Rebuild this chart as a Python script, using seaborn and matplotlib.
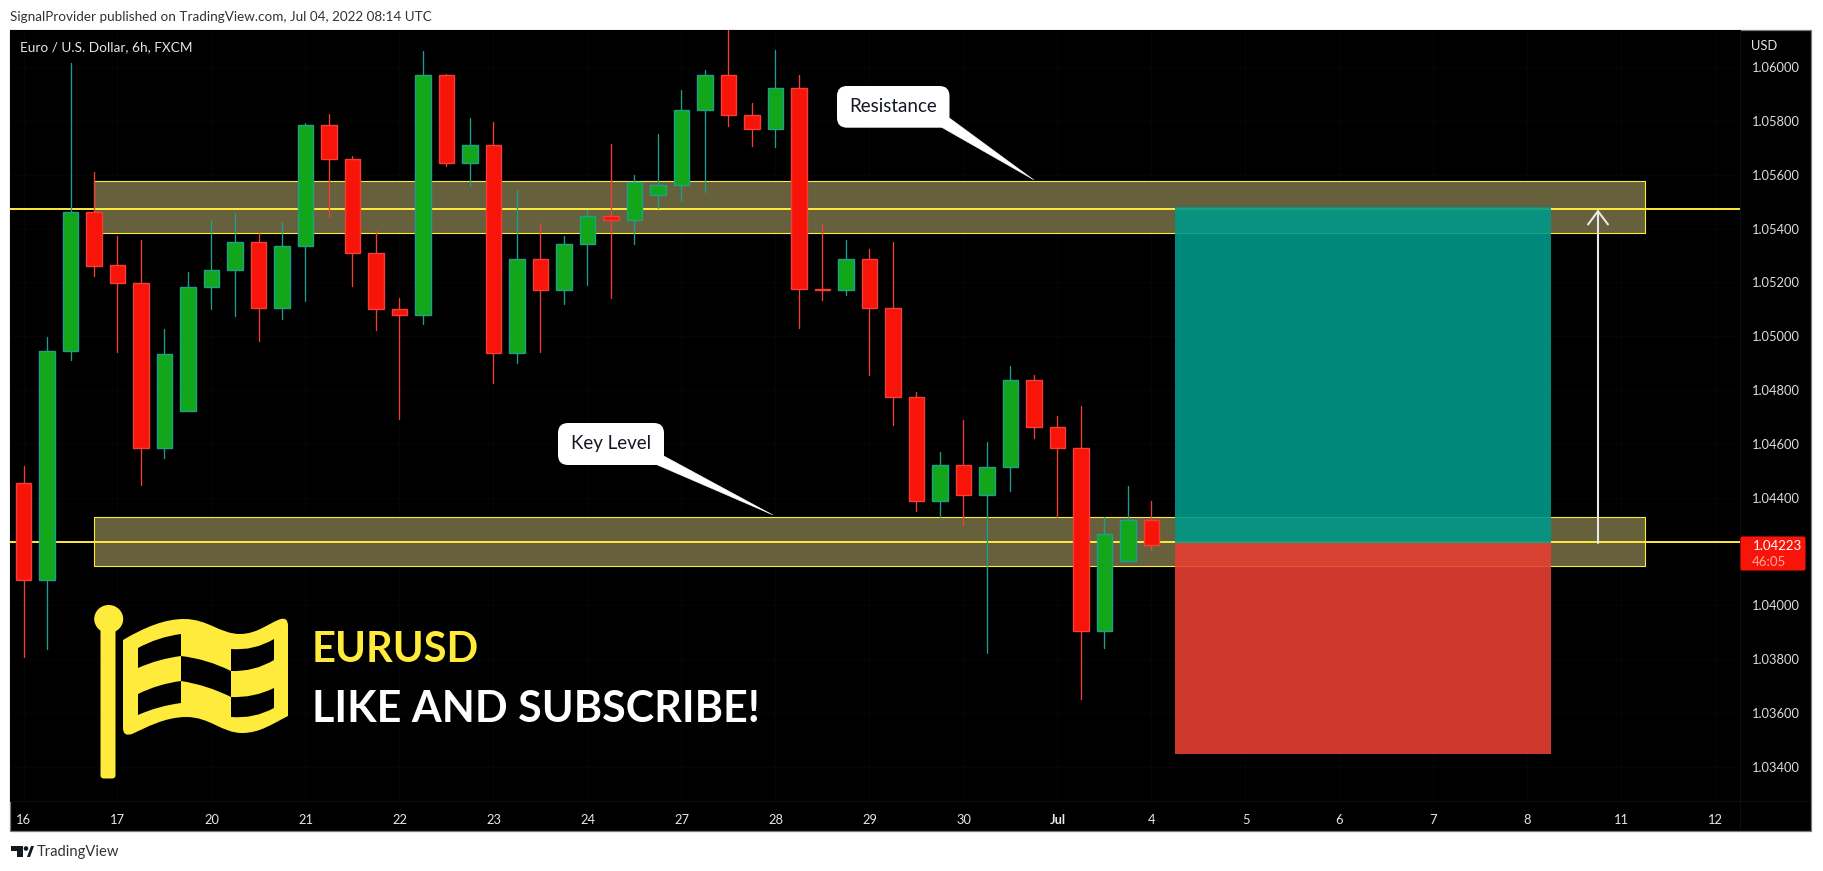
import numpy as np
import pandas as pd
import matplotlib
matplotlib.use("Agg")
import matplotlib.pyplot as plt
import seaborn as sns
from matplotlib.patches import Rectangle, FancyBboxPatch, Polygon, PathPatch, Ellipse
from matplotlib.path import Path
from matplotlib.transforms import Affine2D

# ---------- data ----------
opens = [1.04455,1.04095,1.04945,1.05461,1.05265,1.05198,1.04585,1.04722,1.05183,1.05246,
         1.05350,1.05105,1.05335,1.05785,1.05658,1.05309,1.05101,1.05079,1.05970,1.05643,
         1.05710,1.04938,1.05287,1.05172,1.05343,1.05447,1.05432,1.05525,1.05562,1.05840,
         1.05970,1.05822,1.05770,1.05922,1.05175,1.05172,1.05287,1.05105,1.04774,1.04388,
         1.04522,1.04410,1.04514,1.04837,1.04663,1.04585,1.03905,1.04165,1.04317]
closes = [1.04095,1.04945,1.05461,1.05261,1.05198,1.04585,1.04934,1.05183,1.05246,1.05350,
          1.05105,1.05335,1.05785,1.05658,1.05309,1.05101,1.05079,1.05970,1.05643,1.05710,
          1.04938,1.05287,1.05172,1.05343,1.05447,1.05432,1.05573,1.05562,1.05840,1.05970,
          1.05822,1.05770,1.05922,1.05175,1.05172,1.05287,1.05105,1.04774,1.04388,1.04522,
          1.04410,1.04514,1.04837,1.04663,1.04585,1.03905,1.04265,1.04317,1.04223]
highs = [1.04518,1.04997,1.06015,1.05610,1.05372,1.05357,1.05027,1.05239,1.05432,1.05458,
         1.05387,1.05424,1.05792,1.05825,1.05669,1.05391,1.05142,1.06059,1.05974,1.05811,
         1.05796,1.05543,1.05421,1.05372,1.05469,1.05714,1.05599,1.05751,1.05915,1.05989,
         1.06137,1.05866,1.06063,1.05970,1.05417,1.05357,1.05324,1.05350,1.04793,1.04570,
         1.04689,1.04607,1.04889,1.04856,1.04704,1.04741,1.04329,1.04444,1.04388]
lows = [1.03809,1.03838,1.04912,1.05224,1.04941,1.04447,1.04548,1.04722,1.05101,1.05075,
        1.04982,1.05064,1.05131,1.05443,1.05187,1.05023,1.04693,1.05045,1.05632,1.05558,
        1.04826,1.04901,1.04941,1.05120,1.05190,1.05142,1.05343,1.05476,1.05502,1.05536,
        1.05781,1.05707,1.05703,1.05031,1.05135,1.05153,1.04856,1.04670,1.04351,1.04329,
        1.04299,1.03823,1.04425,1.04622,1.04329,1.03653,1.03842,1.04165,1.04206]
day_labels = ["16","17","20","21","22","23","24","27","28","29","30","Jul","4","5","6","7","8","11","12"]
price_ticks = [1.060,1.058,1.056,1.054,1.052,1.050,1.048,1.046,1.044,1.040,1.038,1.036,1.034]
last_price = 1.04223
resistance_zone = (1.05385, 1.05575)
key_zone = (1.04145, 1.04330)
resistance_line = 1.05474
key_line = 1.04236
target, entry, stop = 1.05479, 1.04232, 1.03448

# ---------- figure ----------
W, H = 1823, 871
sns.set_theme(style="dark")
plt.rcParams["font.family"] = ["Lato", "DejaVu Sans"]
fig = plt.figure(figsize=(W/100, H/100), dpi=100, facecolor="white")
px = Affine2D().scale(1, -1).translate(0, H)   # pixel frame, y down

fig.add_artist(Rectangle((10, 30), 1801, 801, transform=px, fc="black", ec="#787B86", lw=0.9, zorder=0))

L, R, T, B = 10, 1740, 30, 801
ax = fig.add_axes([L/W, 1-B/H, (R-L)/W, (B-T)/H], facecolor="black")
for s in ax.spines.values():
    s.set_visible(False)

UP_FILL, UP_EDGE, DN_FILL, DN_EDGE = "#12A71A", "#1AA08C", "#F9140A", "#F23F36"
YELLOW = "#FFEB3B"

df = pd.DataFrame({"i": np.arange(len(opens)), "o": opens, "c": closes, "h": highs, "l": lows})
df["dir"] = np.where(df.c >= df.o, "up", "down")
df["bottom"] = df[["o", "c"]].min(axis=1)
df["height"] = (df.o - df.c).abs()

# wicks
wicks = pd.concat([df.assign(y=df.h), df.assign(y=df.l)]).sort_values("i")
sns.lineplot(data=wicks, x="i", y="y", units="i", hue="dir", estimator=None, sort=False,
             palette={"up": UP_EDGE, "down": DN_EDGE}, lw=0.95, legend=False, ax=ax, zorder=3)
# bodies
for d, fill, edge in [("up", UP_FILL, UP_EDGE), ("down", DN_FILL, DN_EDGE)]:
    sub = df[df.dir == d]
    sns.barplot(x=sub.i.values, y=sub.height.values, bottom=sub.bottom.values, native_scale=True,
                width=0.68, color=fill, saturation=1, edgecolor=edge, linewidth=1.0,
                errorbar=None, ax=ax, zorder=4)

# levels
for lo, hi in (resistance_zone, key_zone):
    ax.add_patch(Rectangle((3, lo), 66, hi-lo, fc="#66603C", ec=YELLOW, lw=0.8, zorder=1))
for y in (resistance_line, key_line):
    ax.axhline(y, color=YELLOW, lw=1.4, zorder=2)

# position boxes
ax.add_patch(Rectangle((49, entry), 16, target-entry, fc="#009889", ec="none", alpha=0.9, zorder=5))
ax.add_patch(Rectangle((49, stop), 16, entry-stop, fc="#E73F32", ec="none", alpha=0.9, zorder=5))
ax.annotate("", xy=(67, target-0.00008), xytext=(67, entry),
            arrowprops=dict(arrowstyle="->,head_length=0.8,head_width=0.6", color="#E8E8E8", lw=1.5,
                            shrinkA=0, shrinkB=0), zorder=6)

# axes
ax.set_xlim((L-23.5)/23.5, (R-23.5)/23.5)
ax.set_ylim(1.06+(67-B)/26923, 1.06+(67-T)/26923)
ax.set_xticks(np.arange(len(day_labels))*4)
ax.set_xticklabels(day_labels)
ax.set_yticks(price_ticks)
ax.set_yticklabels([f"{p:.5f}" for p in price_ticks])
ax.yaxis.tick_right()
ax.tick_params(axis="x", length=0, pad=9.5, labelsize=9.3, colors="#E6E6E6")
ax.tick_params(axis="y", length=0, pad=8.5, labelsize=9.3, colors="#DDDDDD")
ax.set_xlabel(""); ax.set_ylabel("")
ax.grid(True, color="#060606", lw=0.7, zorder=0)
ax.set_axisbelow(True)
for lab in ax.get_xticklabels():
    if lab.get_text() == "Jul":
        lab.set_fontweight("bold")

def ptext(x, y, s, **kw):
    kw.setdefault("va", "center")
    return fig.text(x/W, 1-y/H, s, **kw)

# frame separators
fig.add_artist(Rectangle((1740, 30), 0.8, 801, transform=px, fc="#0E0E0E", ec="none", zorder=1))
fig.add_artist(Rectangle((10, 801), 1801, 0.8, transform=px, fc="#0E0E0E", ec="none", zorder=1))

ptext(10, 17, "SignalProvider published on TradingView.com, Jul 04, 2022 08:14 UTC", color="#333333", fontsize=9.7)
ptext(20, 47, "Euro / U.S. Dollar, 6h, FXCM", color="#E6E6E6", fontsize=9.8)
ptext(1751, 46, "USD", color="#E6E6E6", fontsize=9.3)

# last price badge
fig.add_artist(FancyBboxPatch((1741, 537), 64, 33, boxstyle="round,pad=0,rounding_size=1.5",
                              transform=px, fc="#F9140A", ec="#F9140A", lw=0.8, zorder=3))
ptext(1752.5, 546, f"{last_price:.5f}", color="white", fontsize=9.5, zorder=4)
ptext(1751.5, 562, "46:05", color="#FFA7A0", fontsize=9.5, zorder=4)

# callouts
def callout(x0, y0, x1, y1, tri, label):
    r = 10
    fig.add_artist(Polygon(tri, closed=True, transform=px, fc="white", ec="white", lw=0.3, zorder=5))
    fig.add_artist(FancyBboxPatch((x0+r, y0+r), x1-x0-2*r, y1-y0-2*r,
                                  boxstyle=f"round,pad={r},rounding_size={r}", transform=px,
                                  fc="white", ec="none", zorder=6))
    ptext((x0+x1)/2, (y0+y1)/2-0.5, label, color="#131722", fontsize=13.5, ha="center", zorder=7)

callout(837, 86, 949.5, 127.7, [(941, 127), (949.5, 118), (1034, 180)], "Resistance")
callout(558, 423, 664, 465, [(655, 464), (664, 456), (773, 515)], "Key Level")

# flag icon
FY = "#FFEB3B"
fig.add_artist(Ellipse((108.7, 619), 29, 28, transform=px, fc=FY, ec="none", zorder=5))
fig.add_artist(FancyBboxPatch((104, 625), 8, 150, boxstyle="round,pad=3.5,rounding_size=3.5",
                              transform=px, fc=FY, ec="none", zorder=5))
M, L4, C3, C4, Z = Path.MOVETO, Path.LINETO, Path.CURVE3, Path.CURVE4, Path.CLOSEPOLY
outer = [((123, 640), M),
         ((145, 627), C4), ((165, 619), C4), ((184, 619), C4),
         ((208, 619), C4), ((220, 634), C4), ((240, 634), C4),
         ((258, 634), C4), ((270, 622), C4), ((281, 619), C4),
         ((288, 617), C3), ((288, 626), C3),
         ((288, 716), L4),
         ((272, 724), C4), ((260, 733), C4), ((242, 733), C4),
         ((222, 733), C4), ((210, 717), C4), ((186, 717), C4),
         ((165, 717), C4), ((145, 728), C4), ((132, 734), C4),
         ((123, 737), C3), ((123, 728), C3),
         ((123, 640), Z)]
v, c = zip(*outer)
fig.add_artist(PathPatch(Path(v, c), transform=px, fc=FY, ec="none", zorder=5))
cells = [
    [(138, 648), (158, 637), (181, 634), (181, 656), (158, 659), (138, 668)],
    [(138, 694), (158, 684), (181, 681), (181, 703), (158, 706), (138, 715)],
    [(181, 656), (207, 659), (231, 671), (231, 697), (207, 685), (181, 681)],
    [(231, 649), (254, 651), (274, 639), (274, 660), (254, 672), (231, 671)],
    [(231, 697), (254, 698), (274, 688), (274, 708), (254, 719), (231, 717)],
]
for q in cells:
    verts = [q[0], q[1], q[2], q[3], q[4], q[5], q[0]]
    codes = [M, C3, C3, L4, C3, C3, Z]
    fig.add_artist(PathPatch(Path(verts, codes), transform=px, fc="black", ec="none", zorder=6))

ptext(312, 650, "EURUSD", color=FY, fontsize=30, fontweight="bold", zorder=7)
ptext(312, 709, "LIKE AND SUBSCRIBE!", color="white", fontsize=31, fontweight="bold", zorder=7)

# footer logo
DK = "#131722"
fig.add_artist(Polygon([(11, 846), (23, 846), (23, 857), (17, 857), (17, 851), (11, 851)], transform=px, fc=DK, ec="none"))
fig.add_artist(Ellipse((26, 848.5), 4.6, 4.6, transform=px, fc=DK, ec="none"))
fig.add_artist(Polygon([(27, 857), (31, 846), (34, 846), (30, 857)], transform=px, fc=DK, ec="none"))
ptext(37, 852, "TradingView", color="#333333", fontsize=10.6)

fig.savefig("out.png", dpi=100, facecolor="white")
